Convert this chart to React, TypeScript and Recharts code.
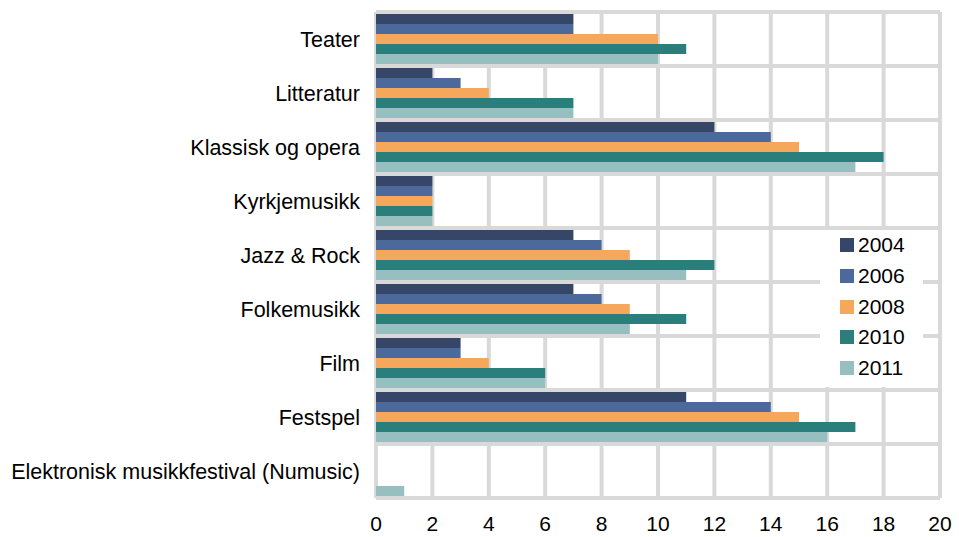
import React from 'react';
import { BarChart, Bar, XAxis, YAxis, CartesianGrid } from 'recharts';

const categories = [
  'Teater',
  'Litteratur',
  'Klassisk og opera',
  'Kyrkjemusikk',
  'Jazz & Rock',
  'Folkemusikk',
  'Film',
  'Festspel',
  'Elektronisk musikkfestival (Numusic)'
];

const v2004 = [7, 2, 12, 2, 7, 7, 3, 11, 0];
const v2006 = [7, 3, 14, 2, 8, 8, 3, 14, 0];
const v2008 = [10, 4, 15, 2, 9, 9, 4, 15, 0];
const v2010 = [11, 7, 18, 2, 12, 11, 6, 17, 0];
const v2011 = [10, 7, 17, 2, 11, 9, 6, 16, 1];

const xTicks = [0, 2, 4, 6, 8, 10, 12, 14, 16, 18, 20];

const series = [
  { key: 'y2004', name: '2004', color: '#354668' },
  { key: 'y2006', name: '2006', color: '#4b6a9b' },
  { key: 'y2008', name: '2008', color: '#f5a85c' },
  { key: 'y2010', name: '2010', color: '#2a7f7c' },
  { key: 'y2011', name: '2011', color: '#98bfbf' }
];

const data = categories.map((name, i) => ({
  name,
  y2004: v2004[i],
  y2006: v2006[i],
  y2008: v2008[i],
  y2010: v2010[i],
  y2011: v2011[i]
}));

const FONT = '"Liberation Sans", Arial, sans-serif';

// legend sits on top of the plot, like in the original
const LegendBox = () => (
  <div
    style={{
      position: 'absolute',
      left: 820,
      top: 230,
      background: '#fff',
      width: 103,
      height: 157,
      boxSizing: 'border-box',
      paddingTop: 0,
      paddingLeft: 20
    }}
  >
    {series.map(s => (
      <div key={s.key} style={{ display: 'flex', alignItems: 'center', height: 30.7 }}>
        <div style={{ width: 14, height: 14, background: s.color, marginRight: 4 }} />
        <span style={{ fontFamily: FONT, fontSize: 21, color: '#000' }}>{s.name}</span>
      </div>
    ))}
  </div>
);

const App: React.FC = () => {
  return (
    <div style={{ position: 'absolute', left: 0, top: 0, width: 959, height: 537, background: '#fff' }}>
      <BarChart
        width={959}
        height={537}
        data={data}
        layout="vertical"
        margin={{ top: 12, right: 19, bottom: 0, left: 0 }}
        barCategoryGap={2}
        barGap={0}
      >
        <CartesianGrid
          stroke="#d9d9d9"
          strokeWidth={4}
          horizontalCoordinatesGenerator={({ offset }: any) =>
            categories.concat(['']).map((_, i) => offset.top + (i * offset.height) / categories.length)
          }
        />
        <XAxis
          type="number"
          domain={[0, 20]}
          ticks={xTicks}
          axisLine={false}
          tickLine={false}
          tickSize={0}
          tickMargin={18}
          height={39}
          interval={0}
          tick={{ fill: '#000', fontSize: 21, fontFamily: FONT }}
        />
        <YAxis
          type="category"
          dataKey="name"
          width={376}
          axisLine={false}
          tickLine={false}
          tickSize={0}
          tickMargin={16}
          interval={0}
          tick={{ fill: '#000', fontSize: 21.5, fontFamily: FONT }}
        />
        {series.map(s => (
          <Bar key={s.key} dataKey={s.key} name={s.name} fill={s.color} isAnimationActive={false} />
        ))}
      </BarChart>
      <LegendBox />
    </div>
  );
};

export default App;
